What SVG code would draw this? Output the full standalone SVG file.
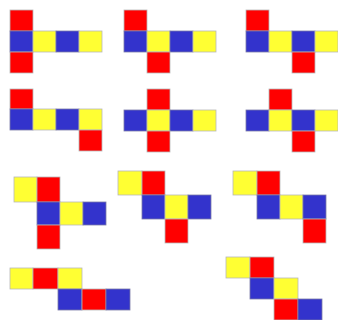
<svg xmlns="http://www.w3.org/2000/svg" width="338" height="320" viewBox="0 0 338 320">
<style>
.r,.y,.b{stroke:#b8b8b8;stroke-width:0.8}
.r{fill:#ff0000}
.y{fill:#ffff33}
.b{fill:#3333cc;stroke:#7a7aa8}
</style>
<rect width="338" height="320" fill="#ffffff"/>
<g id="net1">
<rect class="r" x="10" y="10" width="23" height="21"/>
<rect class="b" x="10" y="31" width="23" height="21"/>
<rect class="y" x="33" y="31" width="23" height="21"/>
<rect class="b" x="56" y="31" width="23" height="21"/>
<rect class="y" x="79" y="31" width="23" height="21"/>
<rect class="r" x="10" y="52" width="23" height="21"/>
</g>
<g id="net2">
<rect class="r" x="124" y="10" width="23" height="21"/>
<rect class="b" x="124" y="31" width="23" height="21"/>
<rect class="y" x="147" y="31" width="23" height="21"/>
<rect class="b" x="170" y="31" width="23" height="21"/>
<rect class="y" x="193" y="31" width="23" height="21"/>
<rect class="r" x="147" y="52" width="23" height="21"/>
</g>
<g id="net3">
<rect class="r" x="246" y="10" width="23" height="21"/>
<rect class="b" x="246" y="31" width="23" height="21"/>
<rect class="y" x="269" y="31" width="23" height="21"/>
<rect class="b" x="292" y="31" width="23" height="21"/>
<rect class="y" x="315" y="31" width="23" height="21"/>
<rect class="r" x="292" y="52" width="23" height="21"/>
</g>
<g id="net4">
<rect class="r" x="10" y="89" width="23" height="20"/>
<rect class="b" x="10" y="109" width="23" height="21"/>
<rect class="y" x="33" y="109" width="23" height="21"/>
<rect class="b" x="56" y="109" width="23" height="21"/>
<rect class="y" x="79" y="109" width="23" height="21"/>
<rect class="r" x="79" y="130" width="23" height="21"/>
</g>
<g id="net5">
<rect class="r" x="147" y="89" width="23" height="21"/>
<rect class="b" x="124" y="110" width="23" height="21"/>
<rect class="y" x="147" y="110" width="23" height="21"/>
<rect class="b" x="170" y="110" width="23" height="21"/>
<rect class="y" x="193" y="110" width="23" height="21"/>
<rect class="r" x="147" y="131" width="23" height="21"/>
</g>
<g id="net6">
<rect class="r" x="269" y="89" width="23" height="21"/>
<rect class="b" x="246" y="110" width="23" height="21"/>
<rect class="y" x="269" y="110" width="23" height="21"/>
<rect class="b" x="292" y="110" width="23" height="21"/>
<rect class="y" x="315" y="110" width="23" height="21"/>
<rect class="r" x="292" y="131" width="23" height="21"/>
</g>
<g id="net7">
<rect class="y" x="14" y="177" width="23" height="25"/>
<rect class="r" x="37" y="177" width="23" height="25"/>
<rect class="b" x="37" y="202" width="23" height="23"/>
<rect class="y" x="60" y="202" width="23" height="23"/>
<rect class="b" x="83" y="202" width="23" height="23"/>
<rect class="r" x="37" y="225" width="23" height="24"/>
</g>
<g id="net8">
<rect class="y" x="118" y="171" width="24" height="24"/>
<rect class="r" x="142" y="171" width="23" height="24"/>
<rect class="b" x="142" y="195" width="23" height="24"/>
<rect class="y" x="165" y="195" width="23" height="24"/>
<rect class="b" x="188" y="195" width="23" height="24"/>
<rect class="r" x="165" y="219" width="23" height="24"/>
</g>
<g id="net9">
<rect class="y" x="233" y="171" width="24" height="24"/>
<rect class="r" x="257" y="171" width="23" height="24"/>
<rect class="b" x="257" y="195" width="23" height="24"/>
<rect class="y" x="280" y="195" width="23" height="24"/>
<rect class="b" x="303" y="195" width="23" height="24"/>
<rect class="r" x="303" y="219" width="23" height="24"/>
</g>
<g id="net10">
<rect class="y" x="10" y="268" width="23" height="21"/>
<rect class="r" x="33" y="268" width="25" height="21"/>
<rect class="y" x="58" y="268" width="24" height="21"/>
<rect class="b" x="58" y="289" width="24" height="21"/>
<rect class="r" x="82" y="289" width="24" height="21"/>
<rect class="b" x="106" y="289" width="24" height="21"/>
</g>
<g id="net11">
<rect class="y" x="226" y="257" width="24" height="21"/>
<rect class="r" x="250" y="257" width="24" height="21"/>
<rect class="b" x="250" y="278" width="24" height="21"/>
<rect class="y" x="274" y="278" width="24" height="21"/>
<rect class="r" x="274" y="299" width="24" height="21"/>
<rect class="b" x="298" y="299" width="24" height="21"/>
</g>
</svg>
